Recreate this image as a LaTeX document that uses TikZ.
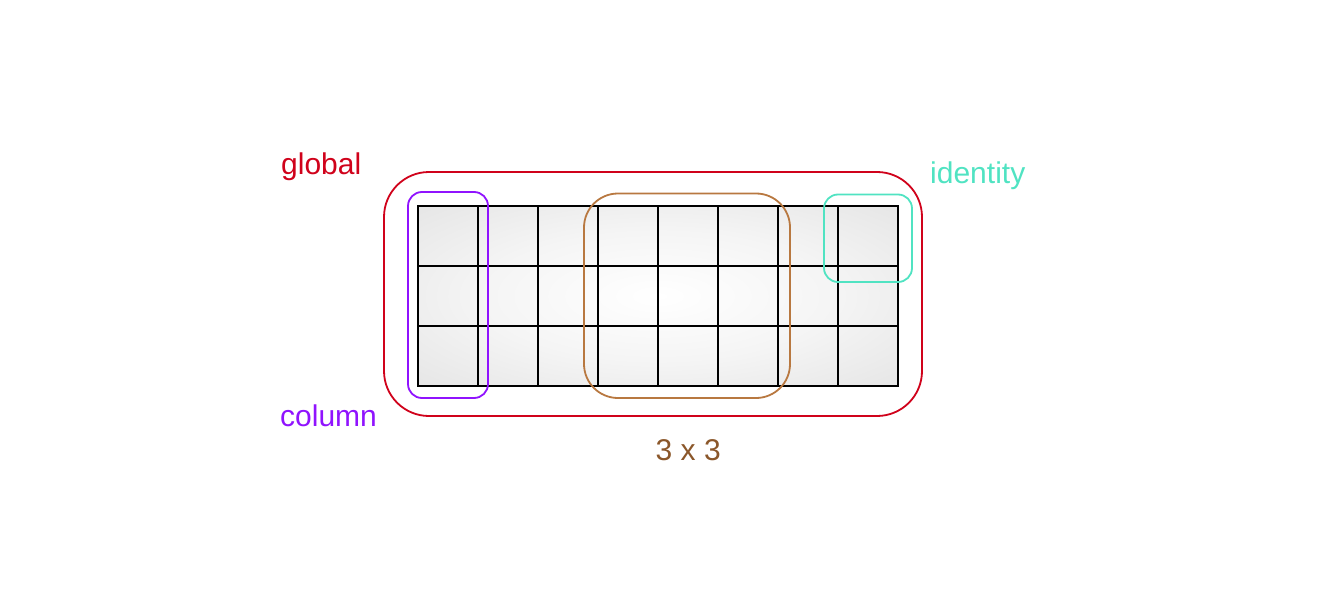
\documentclass[tikz,border=0pt]{standalone}
\usepackage{fontspec}
\setmainfont{Liberation Sans}
\definecolor{cred}{HTML}{D0021B}
\definecolor{cpurple}{HTML}{9013FE}
\definecolor{cteal}{HTML}{50E3C2}
\definecolor{cbrownbox}{HTML}{B87840}
\definecolor{cbrowntxt}{HTML}{8B572A}
\pgfdeclareradialshading{gridshade}{\pgfpoint{0bp}{0bp}}{color(0bp)=(white); color(18bp)=(black!4); color(36bp)=(black!10); color(50bp)=(black!11.5); color(72bp)=(black!12)}
\tikzset{
  lbl/.style={anchor=base west, inner sep=0pt, font=\fontsize{30}{36}\selectfont},
  gridline/.style={line width=2pt, black},
  groupbox/.style={line width=1.8pt},
}
\begin{document}
\begin{tikzpicture}[x=1pt,y=-1pt]
\useasboundingbox (0,0) rectangle (1324,604);
% shaded grid background
\shade[shading=gridshade] (418,206) rectangle (898,386);
% grid lines
\foreach \i in {0,...,8} {
  \draw[gridline] ({418+60*\i},206) -- ({418+60*\i},386);
}
\foreach \j in {0,...,3} {
  \draw[gridline, line cap=rect] (418,{206+60*\j}) -- (898,{206+60*\j});
}
% group boxes
\draw[groupbox, cred, rounded corners=45pt] (384,172) rectangle (922,416);
\draw[groupbox, cpurple, rounded corners=14pt] (408,192) rectangle (488,398);
\draw[groupbox, cbrownbox, rounded corners=34pt] (584,193.5) rectangle (790,398);
\draw[groupbox, cteal, rounded corners=14pt] (824,194.5) rectangle (912,282);
% labels
\node[lbl, text=cred] (global) at (281,174.3) {global};
\node[lbl, text=cteal] (identity) at (930,183.3) {identity};
\node[lbl, text=cpurple] (column) at (280,426.7) {column};
\node[lbl, text=cbrowntxt] (three) at (655.5,460) {3 x 3};
\end{tikzpicture}
\end{document}
